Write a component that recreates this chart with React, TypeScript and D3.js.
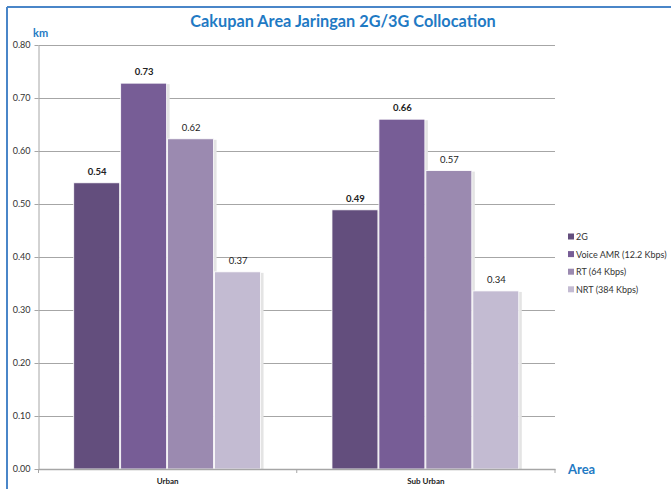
import { useRef, useEffect } from 'react'
import * as d3 from 'd3'

const categories = ['Urban', 'Sub Urban']
const seriesNames = ['2G', 'Voice AMR (12.2 Kbps)', 'RT (64 Kbps)', 'NRT (384 Kbps)']
const urbanValues = [0.54, 0.728, 0.623, 0.372]
const subUrbanValues = [0.489, 0.66, 0.563, 0.336]
const urbanLabels = ['0.54', '0.73', '0.62', '0.37']
const subUrbanLabels = ['0.49', '0.66', '0.57', '0.34']
const yTicks = [0, 0.1, 0.2, 0.3, 0.4, 0.5, 0.6, 0.7, 0.8]
const colors = ['#634e7d', '#775d96', '#9b8ab0', '#c3bbd2']
const boldLabel = [true, true, false, false]

export default function App() {
  const ref = useRef<SVGSVGElement>(null)

  useEffect(() => {
    if (!ref.current) return
    const svg = d3.select(ref.current)
    svg.selectAll('*').remove()

    const font = 'Lato, "DejaVu Sans", sans-serif'
    const left = 38.5
    const right = 555
    const top = 45
    const bottom = 469

    // frame edges (blue)
    svg.append('line').attr('x1', 7).attr('x2', 671).attr('y1', 7).attr('y2', 7)
      .attr('stroke', '#4a86c8').attr('stroke-width', 2)
    svg.append('line').attr('x1', 7).attr('x2', 7).attr('y1', 7).attr('y2', 489)
      .attr('stroke', '#4a86c8').attr('stroke-width', 2)

    const x0 = d3.scaleBand<string>().domain(categories).range([left, right])
    const x1 = d3.scaleBand<string>().domain(seriesNames)
      .range([0, x0.bandwidth()]).paddingOuter(0.75).paddingInner(0)
    const y = d3.scaleLinear().domain([0, 0.8]).range([bottom, top])

    // gridlines
    svg.append('g').selectAll('line').data(yTicks.slice(1)).join('line')
      .attr('x1', left).attr('x2', right)
      .attr('y1', (d) => Math.round(y(d)) + 0.5).attr('y2', (d) => Math.round(y(d)) + 0.5)
      .attr('stroke', '#a6a6a6').attr('stroke-width', 1)

    // y axis
    const yAxis = svg.append('g').attr('transform', `translate(${left},0)`)
      .call(d3.axisLeft(y).tickValues(yTicks).tickFormat((d) => (d as number).toFixed(2)).tickSize(4).tickSizeOuter(0))
    yAxis.select('.domain').attr('stroke', '#a6a6a6')
    yAxis.selectAll('.tick line').attr('stroke', '#a6a6a6')
    yAxis.selectAll('text').attr('font-family', font).attr('font-size', '9px').attr('fill', '#333').attr('dx', '-1')

    const groups = [urbanValues, subUrbanValues]
    const labels = [urbanLabels, subUrbanLabels]
    groups.forEach((vals, gi) => {
      const gx = x0(categories[gi]) as number
      vals.forEach((v, si) => {
        const bx = gx + (x1(seriesNames[si]) as number)
        const bw = x1.bandwidth()
        // soft shadow at right
        svg.append('rect').attr('x', bx + bw - 1).attr('y', y(v) + 1).attr('width', 3)
          .attr('height', bottom - y(v) - 1).attr('fill', '#e4e4e4')
        svg.append('rect').attr('x', bx).attr('y', y(v)).attr('width', bw - 1)
          .attr('height', bottom - y(v)).attr('fill', colors[si])
          .attr('stroke', '#ffffff').attr('stroke-width', 0.8)
        svg.append('text').attr('x', bx + bw / 2).attr('y', y(v) - 8)
          .attr('text-anchor', 'middle').attr('font-family', font).attr('font-size', '9.5px')
          .attr('font-weight', boldLabel[si] ? 'bold' : 'normal').attr('fill', '#222')
          .text(labels[gi][si])
      })
    })

    // x axis
    const xAxis = svg.append('g').attr('transform', `translate(0,${bottom})`)
      .call(d3.axisBottom(x0).tickSize(0).tickSizeOuter(0))
    xAxis.select('.domain').attr('stroke', '#a6a6a6').attr('stroke-width', 1.5)
    xAxis.selectAll('.tick line').remove()
    xAxis.selectAll('text').attr('font-family', font).attr('font-size', '8px')
      .attr('font-weight', 'bold').attr('fill', '#222').attr('dy', '1.55em')
    const bounds = [left, (x0(categories[1]) as number), right]
    svg.append('g').selectAll('line').data(bounds).join('line')
      .attr('x1', (d) => d).attr('x2', (d) => d).attr('y1', bottom).attr('y2', bottom + 4)
      .attr('stroke', '#a6a6a6')

    // title & axis titles
    svg.append('text').attr('x', 343).attr('y', 27).attr('text-anchor', 'middle')
      .attr('font-family', font).attr('font-size', '16.3px').attr('font-weight', 'bold')
      .attr('fill', '#1f7ac4').text('Cakupan Area Jaringan 2G/3G Collocation')
    svg.append('text').attr('x', 33).attr('y', 37).attr('font-family', font)
      .attr('font-size', '11px').attr('font-weight', 'bold').attr('fill', '#1f7ac4').text('km')
    svg.append('text').attr('x', 568).attr('y', 474).attr('font-family', font)
      .attr('font-size', '13px').attr('font-weight', 'bold').attr('fill', '#1f7ac4').text('Area')

    // legend
    const legend = svg.append('g').attr('transform', 'translate(568,237)')
    seriesNames.forEach((name, i) => {
      const row = legend.append('g').attr('transform', `translate(0,${i * 17.6})`)
      row.append('rect').attr('x', 0).attr('y', -3.5).attr('width', 6).attr('height', 6).attr('fill', colors[i])
      row.append('text').attr('x', 8).attr('y', 3).attr('font-family', font)
        .attr('font-size', '9px').attr('fill', '#333').text(name)
    })
  }, [])

  return (
    <svg ref={ref} width={671} height={489}
      style={{ position: 'absolute', left: 0, top: 0, background: '#fff' }} />
  )
}
